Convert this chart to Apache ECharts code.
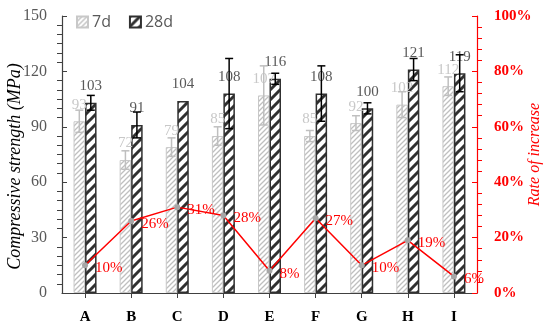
<!DOCTYPE html>
<html><head><meta charset="utf-8">
<script src="https://cdn.jsdelivr.net/npm/echarts@6/dist/echarts.min.js"></script>
<style>html,body{margin:0;padding:0;background:#fff}#c{width:550px;height:327px}</style>
</head><body><div id="c"></div>
<script>
const categories = ['A','B','C','D','E','F','G','H','I'];
const strength7d = [93,72,79,85,107,85,92,102,112];
const strength28d = [103,91,104,108,116,108,100,121,119];
const err7d = [6,5,5,5,16,3,4,7,5];
const err28d = [4,7,0,19,3,15,3,6,10];
const rateOfIncrease = [10,26,31,28,8,27,10,19,6];
const leftTicks = [0,30,60,90,120,150];
const rightTicks = [0,20,40,60,80,100];

function hatch(size, lw, color) {
  const c = document.createElement('canvas');
  c.width = size; c.height = size;
  const g = c.getContext('2d');
  g.fillStyle = '#fff'; g.fillRect(0,0,size,size);
  g.strokeStyle = color; g.lineWidth = lw; g.lineCap = 'square';
  g.beginPath();
  g.moveTo(0,size); g.lineTo(size,0);
  g.moveTo(-size/2,size/2); g.lineTo(size/2,-size/2);
  g.moveTo(size/2,size*1.5); g.lineTo(size*1.5,size/2);
  g.stroke();
  return c;
}
const pat7 = {image: hatch(5, 1.3, '#bfbfbf'), repeat: 'repeat'};
const pat28 = {image: hatch(10, 3, '#303030'), repeat: 'repeat'};

const BW = 11.5;
function errSeries(vals, errs, offset, color) {
  return {
    type: 'custom',
    z: 5,
    silent: true,
    data: vals.map((v,i) => [i, v, errs[i]]),
    renderItem: function(params, api) {
      const i = api.value(0), v = api.value(1), e = api.value(2);
      if (!e) return null;
      const hi = api.coord([i, v + e]);
      const lo = api.coord([i, v - e]);
      const x = hi[0] + offset;
      const cw = 4;
      const st = {stroke: color, lineWidth: 1.5};
      return {type: 'group', children: [
        {type: 'line', shape: {x1: x, y1: hi[1], x2: x, y2: lo[1]}, style: st},
        {type: 'line', shape: {x1: x-cw, y1: hi[1], x2: x+cw, y2: hi[1]}, style: st},
        {type: 'line', shape: {x1: x-cw, y1: lo[1], x2: x+cw, y2: lo[1]}, style: st}
      ]};
    }
  };
}

const serif = '"Liberation Serif", "DejaVu Serif", serif';
const chart = echarts.init(document.getElementById('c'), null, {renderer: 'canvas'});
chart.setOption({
  animation: false,
  grid: {left: 62, right: 73, top: 16, bottom: 34, containLabel: false, outerBoundsMode: 'none'},
  legend: {
    left: 71, top: 9, itemWidth: 11, itemHeight: 11, itemGap: 18, icon: 'rect',
    textStyle: {fontFamily: '"Open Sans", "Noto Sans", sans-serif', fontSize: 16, color: '#595959', padding: [0,0,0,-1]},
    data: ['7d', '28d']
  },
  xAxis: {
    type: 'category', data: categories,
    axisLine: {lineStyle: {color: '#404040', width: 1.2}},
    axisTick: {show: true, alignWithLabel: true, length: 5, lineStyle: {color: '#404040'}},
    axisLabel: {fontFamily: serif, fontWeight: 'bold', fontSize: 15, color: '#000', margin: 17}
  },
  yAxis: [{
    type: 'value', min: 0, max: 150, interval: 30,
    name: 'Compressive strength (MPa)', nameLocation: 'middle', nameGap: 38, nameMoveOverlap: false,
    nameTextStyle: {fontFamily: serif, fontStyle: 'italic', fontSize: 18, color: '#000', padding: [0, 0, 0, -24]},
    axisLine: {show: true, lineStyle: {color: '#404040', width: 1.2}},
    axisTick: {show: true, inside: true, length: 5, lineStyle: {color: '#404040'}},
    minorTick: {show: true, splitNumber: 6, length: -5, lineStyle: {color: '#404040'}},
    splitLine: {show: false},
    axisLabel: {fontFamily: serif, fontSize: 16, color: '#595959', margin: 15,
      formatter: v => leftTicks.includes(v) ? String(v) : ''}
  }, {
    type: 'value', min: 0, max: 100, interval: 20, position: 'right',
    name: 'Rate of increase', nameLocation: 'middle', nameGap: 50, nameRotate: 90, nameMoveOverlap: false,
    nameTextStyle: {fontFamily: serif, fontStyle: 'italic', fontSize: 16, color: '#ff0000'},
    axisLine: {show: true, lineStyle: {color: '#ff0000', width: 1.2}},
    axisTick: {show: true, inside: true, length: 5, lineStyle: {color: '#ff0000'}},
    minorTick: {show: true, splitNumber: 5, length: -5, lineStyle: {color: '#ff0000'}},
    splitLine: {show: false},
    axisLabel: {fontFamily: serif, fontWeight: 'bold', fontSize: 15, color: '#ff0000', margin: 17,
      formatter: v => rightTicks.includes(v) ? v + '%' : ''}
  }],
  series: [{
    name: '7d', type: 'bar', data: strength7d, barWidth: BW, barGap: '0%',
    itemStyle: {color: pat7, borderColor: '#c8c8c8', borderWidth: 1},
    label: {show: true, position: 'top', distance: 9, fontFamily: serif, fontSize: 15, color: '#c8c8c8'}
  }, {
    name: '28d', type: 'bar', data: strength28d, barWidth: BW, barGap: '0%',
    itemStyle: {color: pat28, borderColor: '#303030', borderWidth: 1.5},
    label: {show: true, position: 'top', distance: 9, fontFamily: serif, fontSize: 15, color: '#595959'}
  },
  errSeries(strength7d, err7d, -BW/2, '#bfbfbf'),
  errSeries(strength28d, err28d, BW/2, '#000'),
  {
    name: 'rate', type: 'line', yAxisIndex: 1, data: rateOfIncrease, z: 6,
    symbol: 'circle', symbolSize: 6,
    lineStyle: {color: '#ff0000', width: 1.5},
    itemStyle: {color: '#a6a6a6'},
    label: {show: true, position: 'right', distance: 7, offset: [0, 3], fontFamily: serif, fontSize: 15, color: '#ff0000',
      formatter: p => p.value + '%'}
  }]
});
</script></body></html>
